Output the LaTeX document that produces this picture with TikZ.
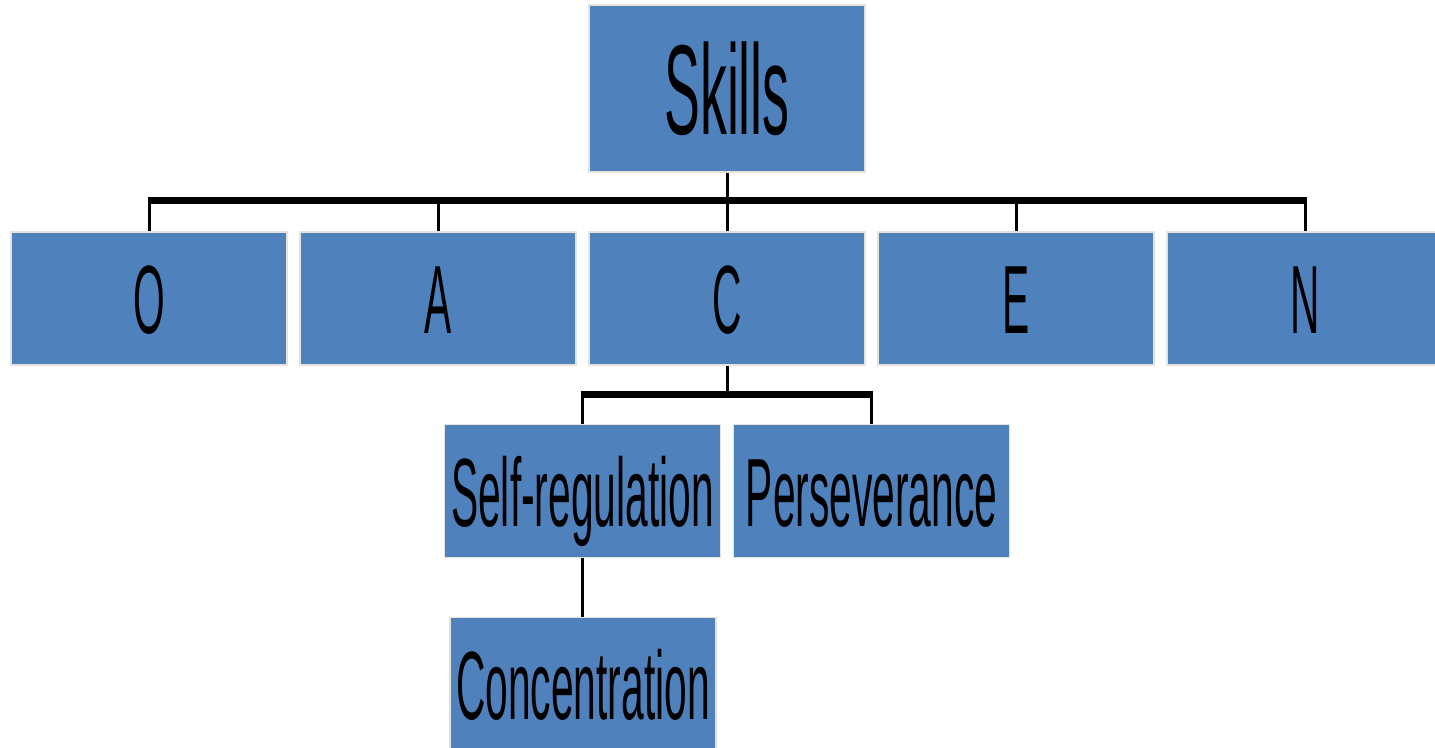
\documentclass[tikz,border=0pt]{standalone}
\usepackage{fontspec}
\newfontfamily\narrowfont[FakeStretch=0.42]{Liberation Sans}
\definecolor{boxblue}{HTML}{4F81BD}
\definecolor{boxedge}{HTML}{E6E4DA}
\tikzset{
  box/.style={draw=boxedge, line width=1.5pt, fill=boxblue, inner sep=0pt,
    minimum width=276pt, minimum height=133pt, text height=70pt, text depth=0pt,
    font=\narrowfont\fontsize{97}{97}\selectfont},
  link/.style={line width=3pt},
  bar/.style={line width=7pt}
}
\begin{document}
\begin{tikzpicture}[x=1pt,y=-1pt]
    \useasboundingbox (0,0) rectangle (1435,747);
    \node[box, minimum height=167pt, text height=92pt, font=\narrowfont\fontsize{128}{128}\selectfont] (skills) at (727,88.5) {Skills};
    \foreach \name/\lbl/\x in {o/O/149, a/A/438, c/C/727, e/E/1016, n/N/1305}
      {\node[box] (\name) at (\x,298.5) {\lbl};}
    \node[box] (selfreg) at (582.5,491) {Self-regulation};
    \node[box] (persev) at (871.5,491) {Perseverance};
    \node[box, minimum width=266pt] (conc) at (583,684) {Concentration};
    % top level: trunk bar and drops
    \coordinate (trunk) at (727,200);
    \draw[link] (skills) -- (c);
    \draw[bar] ([xshift=-1.5pt]o.north |- trunk) -- ([xshift=1.5pt]n.north |- trunk);
    \foreach \name in {o,a,e,n} {\draw[link] (\name.north |- trunk) -- (\name);}
    % under C
    \coordinate (branch) at (727,394.5);
    \draw[link] (c) -- (c.south |- branch);
    \draw[bar] ([xshift=-1.5pt]selfreg.north |- branch) -- ([xshift=1.5pt]persev.north |- branch);
    \draw[link] (selfreg.north |- branch) -- (selfreg);
    \draw[link] (persev.north |- branch) -- (persev);
    \draw[link] (selfreg.south) -- (selfreg.south |- conc.north);
  \end{tikzpicture}
\end{document}
